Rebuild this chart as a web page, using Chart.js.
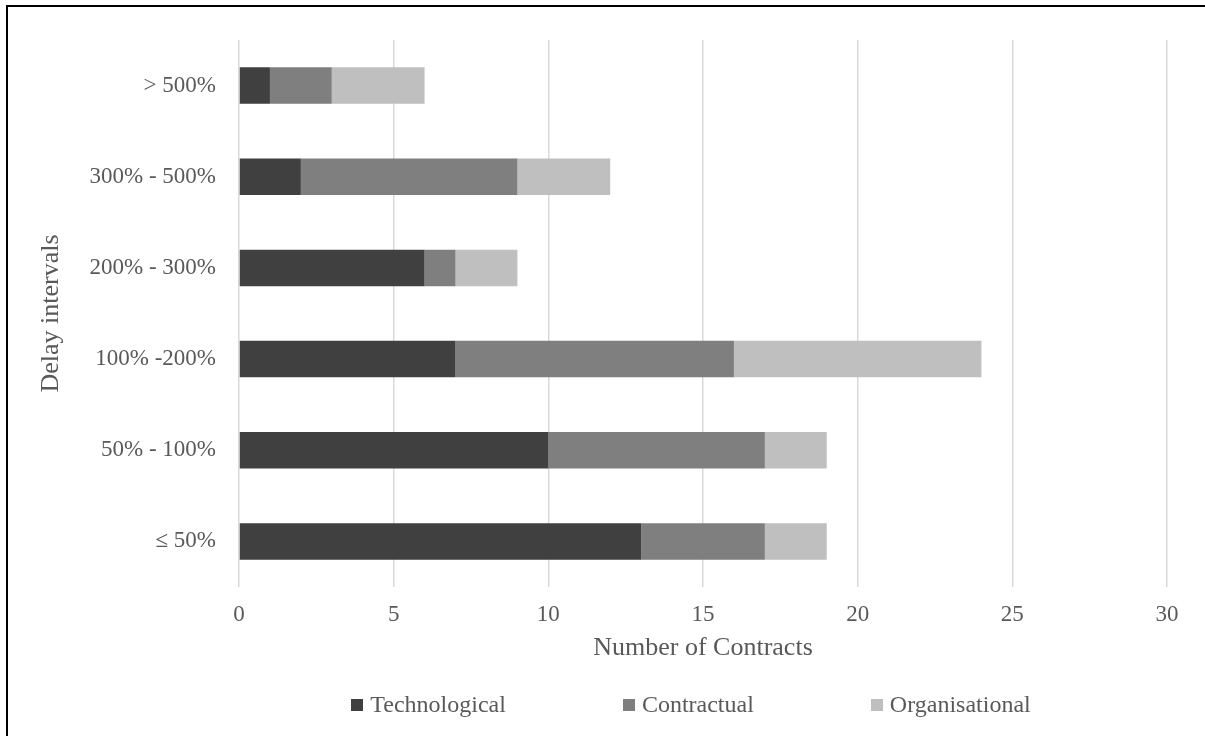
<!DOCTYPE html>
<html>
<head>
<meta charset="utf-8">
<script src="https://cdn.jsdelivr.net/npm/chart.js@4.4.1/dist/chart.umd.min.js"></script>
<style>
html,body{margin:0;padding:0;background:#fff;}
#wrap{width:1205px;height:736px;position:relative;}
</style>
</head>
<body>
<div id="wrap"><canvas id="c" width="1205" height="736"></canvas></div>
<script>
const categories = ['> 500%', '300% - 500%', '200% - 300%', '100% -200%', '50% - 100%', '\u2264 50%'];
const technological = [1, 2, 6, 7, 10, 13];
const contractual = [2, 7, 1, 9, 7, 4];
const organisational = [3, 3, 2, 8, 2, 2];
const xTicks = [0, 5, 10, 15, 20, 25, 30];

const FONT = 'Liberation Serif, Times New Roman, serif';
const TXT = '#595959';

const framePlugin = {
  id: 'frame',
  afterDraw(chart) {
    const ctx = chart.ctx;
    ctx.save();
    ctx.strokeStyle = '#000';
    ctx.lineWidth = 2;
    ctx.beginPath();
    ctx.moveTo(7, 736);
    ctx.lineTo(7, 6);
    ctx.lineTo(1205, 6);
    ctx.stroke();
    ctx.restore();
  }
};

// Legend drawn from the chart's datasets (Excel-style spacing)
const legendPlugin = {
  id: 'excelLegend',
  afterDraw(chart) {
    const ctx = chart.ctx;
    ctx.save();
    ctx.font = '24px "Liberation Serif", "Times New Roman", serif';
    ctx.textBaseline = 'middle';
    ctx.textAlign = 'left';
    const box = 12, gap = 7, spacing = 117;
    const items = chart.data.datasets.map(ds => ({
      text: ds.label, color: ds.backgroundColor, w: ctx.measureText(ds.label).width
    }));
    const total = items.reduce((s, it) => s + box + gap + it.w, 0) + spacing * (items.length - 1);
    let x = 691 - total / 2;
    const y = 705;
    items.forEach(it => {
      ctx.fillStyle = it.color;
      ctx.fillRect(Math.round(x), y - 6, box, box);
      ctx.fillStyle = TXT;
      ctx.fillText(it.text, x + box + gap, y + 1);
      x += box + gap + it.w + spacing;
    });
    ctx.restore();
  }
};

new Chart(document.getElementById('c'), {
  type: 'bar',
  data: {
    labels: categories,
    datasets: [
      { label: 'Technological', data: technological, backgroundColor: '#404040' },
      { label: 'Contractual', data: contractual, backgroundColor: '#7f7f7f' },
      { label: 'Organisational', data: organisational, backgroundColor: '#bfbfbf' }
    ]
  },
  options: {
    indexAxis: 'y',
    responsive: false,
    animation: false,
    devicePixelRatio: 1,
    categoryPercentage: 0.4,
    barPercentage: 1,
    layout: { padding: { left: 0, top: 40, right: 38, bottom: 72 } },
    plugins: {
      tooltip: { enabled: false },
      legend: { display: false }
    },
    scales: {
      x: {
        stacked: true,
        min: 0,
        max: 30,
        afterBuildTicks(scale) { scale.ticks = xTicks.map(v => ({ value: v })); },
        afterFit(scale) { scale.height = 77; },
        ticks: { font: { family: FONT, size: 23 }, color: TXT, padding: 14 },
        grid: { color: '#d9d9d9', lineWidth: 1.5, drawTicks: false },
        border: { display: false },
        title: { display: true, text: 'Number of Contracts', font: { family: FONT, size: 26 }, color: TXT, padding: { top: 4, bottom: 0 } }
      },
      y: {
        stacked: true,
        afterFit(scale) { scale.width = 239; },
        ticks: { font: { family: FONT, size: 23 }, color: TXT, padding: 15 },
        grid: { display: false },
        border: { display: false },
        title: { display: true, text: 'Delay intervals', font: { family: FONT, size: 26 }, color: TXT, padding: { top: 36, bottom: 0 } }
      }
    }
  },
  plugins: [framePlugin, legendPlugin]
});
</script>
</body>
</html>
